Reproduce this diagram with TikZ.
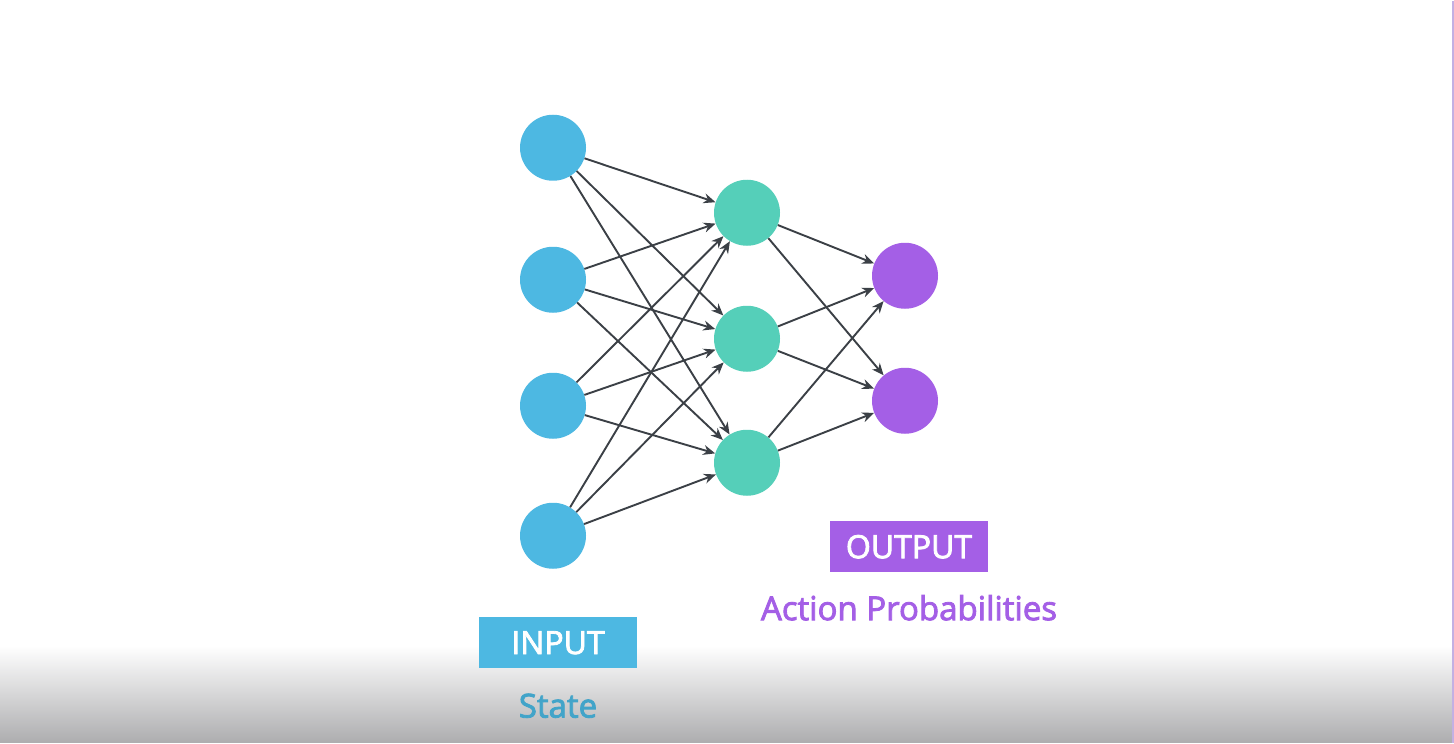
\documentclass[tikz,border=0pt]{standalone}
\usepackage{fontspec}
\setmainfont{Open Sans}
\newfontfamily\labelfont[FakeBold=2.5]{Open Sans}
\usepackage{tikz}
\usetikzlibrary{arrows.meta,positioning}
\definecolor{inblue}{HTML}{4DB8E2}
\definecolor{hidteal}{HTML}{55CFB9}
\definecolor{outpurple}{HTML}{A45FE6}
\definecolor{wire}{HTML}{3B4046}
\definecolor{statetext}{HTML}{42A4C9}
\definecolor{fade}{HTML}{ADADAF}
\definecolor{rim}{HTML}{C3B0E3}
\tikzset{
  neuron/.style={circle, minimum size=66pt, inner sep=0pt},
  link/.style={-{Stealth[length=12pt,width=10pt]}, line width=1.9pt, draw=wire},
  tag/.style={minimum width=158pt, minimum height=51pt, inner sep=0pt,
              text=white, font=\labelfont\fontsize{32}{38}\selectfont},
  caption/.style={inner sep=0pt, font=\labelfont\fontsize{33}{40}\selectfont}
}
\begin{document}
\begin{tikzpicture}[x=1pt,y=-1pt]
  \fill[white] (0,0) rectangle (1454,742);
  \shade[top color=white, bottom color=fade] (0,645) rectangle (1454,742);
  \draw[rim, line width=1.5pt] (1453,0) -- (1453,742);
  % layers
  \foreach \y [count=\i] in {147,279,405,535} {
    \node[neuron, fill=inblue] (in\i) at (553,\y) {};
  }
  \foreach \y [count=\i] in {212,338,462} {
    \node[neuron, fill=hidteal] (hid\i) at (747,\y) {};
  }
  \foreach \y [count=\i] in {275,400} {
    \node[neuron, fill=outpurple] (out\i) at (905,\y) {};
  }
  % connections
  \foreach \i in {1,...,4} {
    \foreach \j in {1,2,3} {
      \draw[link] (in\i) -- (hid\j);
    }
  }
  \foreach \j in {1,2,3} {
    \foreach \k in {1,2} {
      \draw[link] (hid\j) -- (out\k);
    }
  }
  % labels
  \node[tag, fill=inblue] (inputtag) at (558,642) {INPUT};
  \node[caption, text=statetext] (statelabel) at (558,705) {State};
  \node[tag, fill=outpurple] (outputtag) at (909,546) {OUTPUT};
  \node[caption, text=outpurple] (problabel) at (909,607) {Action Probabilities};
\end{tikzpicture}
\end{document}
